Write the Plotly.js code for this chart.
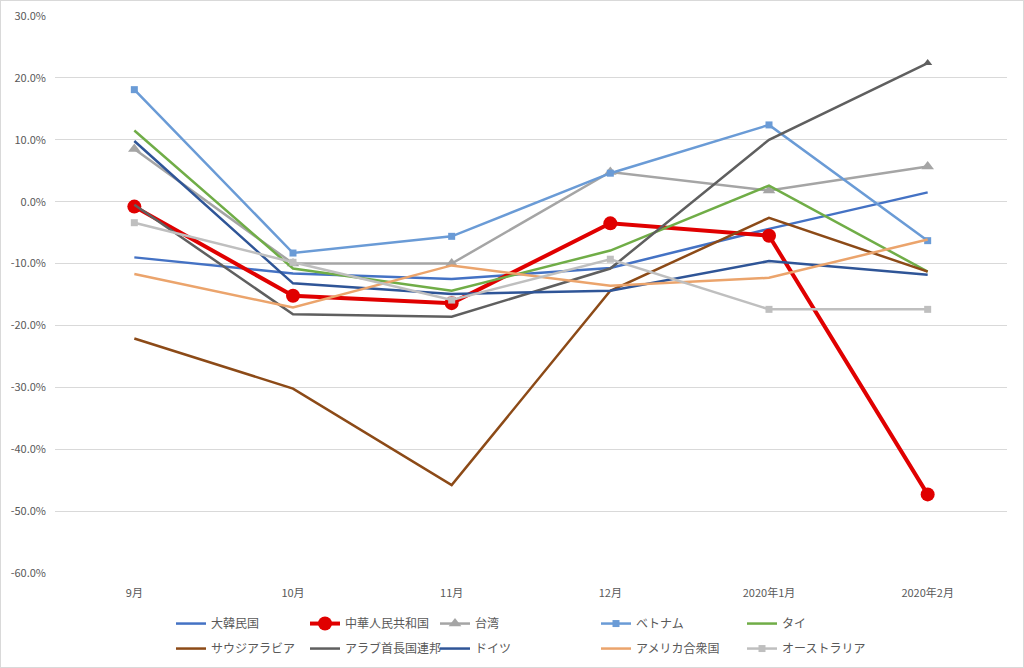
<!DOCTYPE html>
<html>
<head>
<meta charset="utf-8">
<script src="https://cdn.plot.ly/plotly-3.0.1.min.js"></script>
<style>
  body { margin: 0; background: #fff; }
  #plot { width: 1024px; height: 668px; box-sizing: border-box; border: 1px solid #d9d9d9; }
</style>
</head>
<body>
<div id="plot"></div>
<script>
const months = ['9月', '10月', '11月', '12月', '2020年1月', '2020年2月'];

// 前年同月比 (%)
const korea     = [-9.0, -11.6, -12.5, -10.7, -4.4, 1.5];
const china     = [-0.8, -15.2, -16.4, -3.5, -5.5, -47.3];
const taiwan    = [8.5, -10.0, -10.0, 4.8, 1.8, 5.7];
const vietnam   = [18.1, -8.3, -5.6, 4.6, 12.4, -6.3];
const thailand  = [11.5, -10.8, -14.4, -7.9, 2.6, -11.3];
const saudi     = [-22.1, -30.2, -45.8, -14.4, -2.6, -11.3];
const uae       = [-0.5, -18.2, -18.6, -10.8, 10.0, 22.4];
const germany   = [9.8, -13.2, -14.9, -14.4, -9.6, -11.8];
const usa       = [-11.7, -17.1, -10.3, -13.6, -12.3, -6.1];
const australia = [-3.4, -9.8, -15.9, -9.3, -17.4, -17.4];

const yTicks = [30, 20, 10, 0, -10, -20, -30, -40, -50, -60];

const names = ['大韓民国', '中華人民共和国', '台湾', 'ベトナム', 'タイ',
               'サウジアラビア', 'アラブ首長国連邦', 'ドイツ', 'アメリカ合衆国', 'オーストラリア'];
const series = [korea, china, taiwan, vietnam, thailand, saudi, uae, germany, usa, australia];
const colors = ['#4472C4', '#E00000', '#A5A5A5', '#6A9BD6', '#70AD47',
                '#8C4A17', '#5F5F5F', '#2F5597', '#EBA46C', '#BFBFBF'];

// legend column for each series (Excel lays them out in 2 rows of 5)
const legendOf = ['legend', 'legend2', 'legend3', 'legend4', 'legend5',
                  'legend', 'legend2', 'legend3', 'legend4', 'legend5'];

const traces = series.map((vals, i) => {
    const t = {
        type: 'scatter',
        mode: 'lines',
        x: months,
        y: vals,
        name: names[i],
        legend: legendOf[i],
        legendgroup: 'g' + i,
        line: { color: colors[i], width: 2.5 },
        hovertemplate: '%{y:.1f}%<extra>' + names[i] + '</extra>'
    };
    if (i === 1) {
        t.mode = 'lines+markers';
        t.line.width = 4;
        t.marker = { symbol: 'circle', size: 14, color: colors[i] };
    } else if (i === 2) {
        t.mode = 'lines+markers';
        t.marker = { symbol: 'triangle-up', size: 11, color: colors[i] };
    } else if (i === 3 || i === 9) {
        t.mode = 'lines+markers';
        t.marker = { symbol: 'square', size: 7, color: colors[i] };
    }
    return t;
});

// the UAE line ends with a small triangle in the original
traces.push({
    type: 'scatter',
    mode: 'markers',
    x: months.slice(-1),
    y: uae.slice(-1),
    showlegend: false,
    hoverinfo: 'skip',
    marker: { symbol: 'triangle-up', size: 8, color: colors[6] }
});

const legendFont = { family: 'Noto Sans CJK JP, sans-serif', size: 12, color: '#595959' };
const W = 1022;
function legendAt(px) {
    return {
        xref: 'container', yref: 'container',
        x: px / W, y: 0.087, xanchor: 'left', yanchor: 'top',
        orientation: 'v', font: legendFont, bgcolor: 'rgba(0,0,0,0)',
        tracegroupgap: 6, itemwidth: 30
    };
}

const layout = {
    width: 1022,
    height: 666,
    margin: { l: 54, r: 16, t: 15, b: 94, autoexpand: false },
    paper_bgcolor: '#ffffff',
    plot_bgcolor: '#ffffff',
    font: { family: 'Noto Sans CJK JP, sans-serif', color: '#595959', size: 11 },
    showlegend: true,
    xaxis: {
        type: 'category',
        range: [-0.5, 5.5],
        showgrid: false,
        showline: false,
        zeroline: false,
        ticks: '',
        tickangle: 0,
        ticklabelstandoff: 12,
        tickfont: { size: 11, color: '#595959' }
    },
    yaxis: {
        range: [-60, 30],
        tickmode: 'array',
        tickvals: yTicks,
        ticktext: yTicks.map(v => v.toFixed(1) + '%'),
        showgrid: true,
        gridcolor: '#D9D9D9',
        gridwidth: 1,
        zeroline: false,
        showline: false,
        ticks: '',
        ticklabelstandoff: 8,
        tickfont: { size: 11, color: '#595959' }
    },
    legend: legendAt(170),
    legend2: legendAt(304),
    legend3: legendAt(434),
    legend4: legendAt(595),
    legend5: legendAt(741)
};

Plotly.newPlot('plot', traces, layout, { displayModeBar: false, staticPlot: true });
</script>
</body>
</html>
